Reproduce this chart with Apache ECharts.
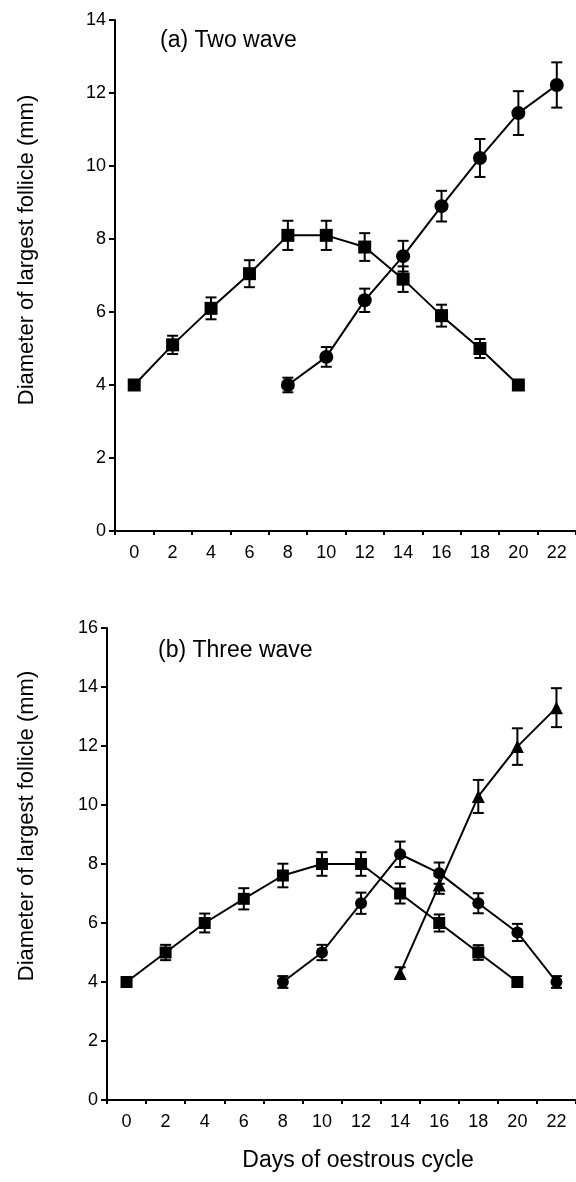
<!DOCTYPE html>
<html>
<head>
<meta charset="utf-8">
<script src="https://cdn.jsdelivr.net/npm/echarts@6/dist/echarts.min.js"></script>
<style>html,body{margin:0;padding:0;background:#fff}#c{width:576px;height:1182px}</style>
</head>
<body>
<div id="c"></div>
<script>
// ---- data ----
const days = ['0','2','4','6','8','10','12','14','16','18','20','22'];
const yTicksA = [0,2,4,6,8,10,12,14];
const yTicksB = [0,2,4,6,8,10,12,14,16];

// (a) Two wave
const aW1Days = [0,2,4,6,8,10,12,14,16,18,20];
const aW1Vals = [4.0,5.1,6.1,7.05,8.1,8.1,7.78,6.9,5.9,5.0,4.0];
const aW1Err  = [0.1,0.25,0.3,0.37,0.4,0.4,0.38,0.35,0.3,0.26,0.1];
const aW2Days = [8,10,12,14,16,18,20,22];
const aW2Vals = [4.0,4.77,6.32,7.53,8.9,10.22,11.45,12.22];
const aW2Err  = [0.2,0.27,0.32,0.42,0.42,0.52,0.6,0.62];

// (b) Three wave
const bW1Days = [0,2,4,6,8,10,12,14,16,18,20];
const bW1Vals = [4.0,5.0,6.0,6.82,7.61,8.0,8.0,7.0,6.0,5.0,4.0];
const bW1Err  = [0.1,0.26,0.32,0.36,0.4,0.4,0.4,0.34,0.29,0.25,0.1];
const bW2Days = [8,10,12,14,16,18,20,22];
const bW2Vals = [4.0,5.0,6.67,8.33,7.69,6.67,5.68,4.0];
const bW2Err  = [0.2,0.26,0.36,0.43,0.36,0.34,0.29,0.2];
const bW3Days = [14,16,18,20,22];
const bW3Vals = [4.3,7.29,10.29,11.98,13.3];
const bW3Err  = [0.2,0.3,0.56,0.62,0.66];

const titleY = 'Diameter of largest follicle (mm)';
const titleX = 'Days of oestrous cycle';
const labelA = '(a) Two wave';
const labelB = '(b) Three wave';

// ---- build ----
const FONT = 'Liberation Sans, Arial, sans-serif';
function pairs(ds, vs){ return ds.map((d,i)=>[String(d), vs[i]]); }
function errPairs(ds, vs, es){ return ds.map((d,i)=>[days.indexOf(String(d)), vs[i], es[i]]); }

function errRender(params, api){
  const x = api.value(0), y = api.value(1), e = api.value(2);
  const t = api.coord([x, y+e]), b = api.coord([x, y-e]);
  const w = 5.5;
  const st = {stroke:'#000', lineWidth:2};
  return {type:'group', children:[
    {type:'line', shape:{x1:t[0],y1:t[1],x2:b[0],y2:b[1]}, style:st},
    {type:'line', shape:{x1:t[0]-w,y1:t[1],x2:t[0]+w,y2:t[1]}, style:st},
    {type:'line', shape:{x1:b[0]-w,y1:b[1],x2:b[0]+w,y2:b[1]}, style:st}
  ]};
}

function lineS(idx, ds, vs, sym, size){
  return {type:'line', xAxisIndex:idx, yAxisIndex:idx, data:pairs(ds,vs),
    symbol:sym, symbolSize:size, showSymbol:true, connectNulls:true,
    lineStyle:{color:'#000', width:2}, itemStyle:{color:'#000', borderWidth:0},
    animation:false, z:3};
}
function errS(idx, ds, vs, es){
  return {type:'custom', xAxisIndex:idx, yAxisIndex:idx, data:errPairs(ds,vs,es),
    renderItem:errRender, animation:false, z:4, silent:true};
}

function xAx(idx){
  return {type:'category', gridIndex:idx, data:days, boundaryGap:true,
    axisLine:{lineStyle:{color:'#000', width:2}},
    axisTick:{show:true, length:4, lineStyle:{color:'#000', width:2}, alignWithLabel:false},
    axisLabel:{color:'#000', fontSize:18, fontFamily:FONT, margin:13, interval:0},
    splitLine:{show:false}};
}
function yAx(idx, ticks){
  return {type:'value', gridIndex:idx, min:ticks[0], max:ticks[ticks.length-1], interval:2,
    axisLine:{show:true, lineStyle:{color:'#000', width:2}},
    axisTick:{show:true, length:6, lineStyle:{color:'#000', width:2}},
    axisLabel:{color:'#000', fontSize:18, fontFamily:FONT, margin:9},
    splitLine:{show:false}};
}

const option = {
  backgroundColor:'#fff',
  animation:false,
  grid:[
    {left:115, right:-9, top:20, bottom:651},
    {left:107, right:-1, top:628, bottom:82}
  ],
  xAxis:[xAx(0), xAx(1)],
  yAxis:[yAx(0, yTicksA), yAx(1, yTicksB)],
  graphic:[
    {type:'text', x:160, y:41, style:{text:labelA, font:'23px '+FONT, fill:'#000', textVerticalAlign:'middle'}},
    {type:'text', x:158, y:651, style:{text:labelB, font:'23px '+FONT, fill:'#000', textVerticalAlign:'middle'}},
    {type:'text', x:27, y:250, rotation:Math.PI/2, style:{text:titleY, font:'22px '+FONT, fill:'#000', textAlign:'center', textVerticalAlign:'middle'}},
    {type:'text', x:27, y:826, rotation:Math.PI/2, style:{text:titleY, font:'22px '+FONT, fill:'#000', textAlign:'center', textVerticalAlign:'middle'}},
    {type:'text', x:358, y:1161, style:{text:titleX, font:'23px '+FONT, fill:'#000', textAlign:'center', textVerticalAlign:'middle'}}
  ],
  series:[
    lineS(0, aW1Days, aW1Vals, 'rect', 13),
    errS(0, aW1Days, aW1Vals, aW1Err),
    lineS(0, aW2Days, aW2Vals, 'circle', 14),
    errS(0, aW2Days, aW2Vals, aW2Err),
    lineS(1, bW1Days, bW1Vals, 'rect', 12),
    errS(1, bW1Days, bW1Vals, bW1Err),
    lineS(1, bW2Days, bW2Vals, 'circle', 12),
    errS(1, bW2Days, bW2Vals, bW2Err),
    lineS(1, bW3Days, bW3Vals, 'triangle', 13),
    errS(1, bW3Days, bW3Vals, bW3Err)
  ]
};
const chart = echarts.init(document.getElementById('c'), null, {renderer:'canvas'});
chart.setOption(option);
</script>
</body>
</html>
